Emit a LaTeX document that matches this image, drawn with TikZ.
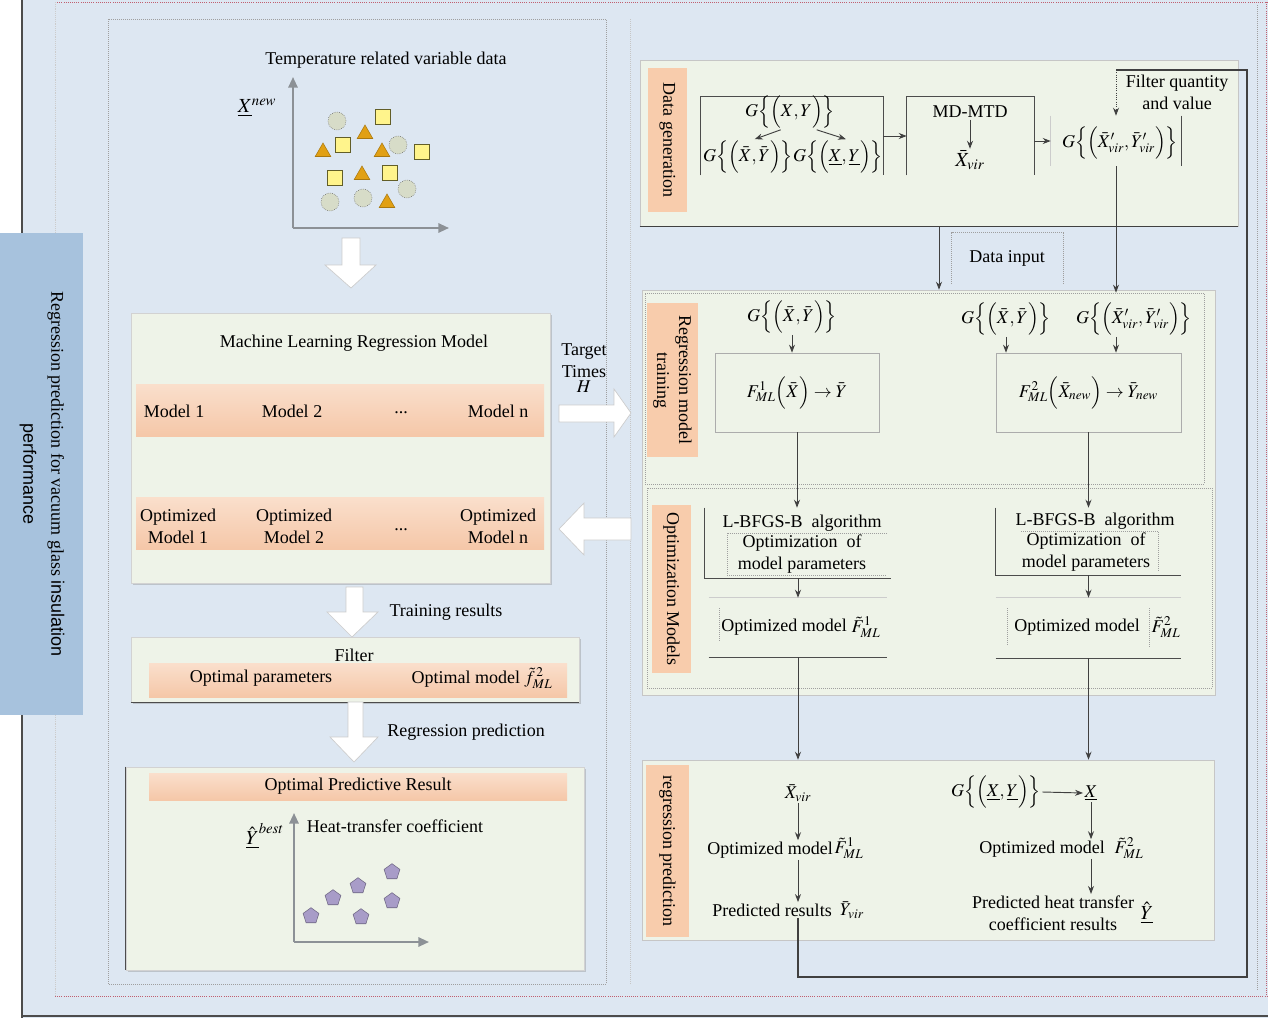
\documentclass[tikz,border=0pt]{standalone}
\usepackage{mathptmx}
\usepackage[no-math]{fontspec}
\setmainfont{Liberation Serif}
\setsansfont{Liberation Sans}
\usetikzlibrary{arrows.meta,shapes.geometric,fit,shadows}
\definecolor{bgblue}{HTML}{DDE7F2}
\definecolor{boxgreen}{HTML}{EEF3E8}
\definecolor{salmon}{HTML}{F8CCAC}
\definecolor{bandtop}{HTML}{FADFCC}
\definecolor{bandbot}{HTML}{F5C7A8}
\definecolor{steel}{HTML}{A7C2DD}
\definecolor{lineg}{HTML}{404040}
\definecolor{reddot}{HTML}{C06070}
\definecolor{axisgray}{HTML}{8C9196}
\definecolor{circfill}{HTML}{D7DCC8}
\definecolor{sqfill}{HTML}{FFF48C}
\definecolor{trifill}{HTML}{E1A014}
\definecolor{pentfill}{HTML}{A89CC8}
\newcommand\mysize{\fontsize{13.5}{16.5}\selectfont}
\newcommand\GG[2]{G\Big\{\Big(#1,#2\Big)\Big\}}
\begin{document}
\begin{tikzpicture}[x=0.75pt,y=-0.75pt,
  every node/.style={font=\mysize, inner sep=1pt},
  conn/.style={draw=lineg, line width=0.7pt},
  arr/.style={draw=lineg, line width=0.7pt, -{Stealth[length=6pt,width=4.5pt]}},
  dotline/.style={draw=gray!75, densely dotted, line width=0.5pt},
  thinline/.style={draw=gray!60!black, line width=0.5pt},
  lightline/.style={draw=gray!40, line width=0.5pt},
  area/.style={fill=boxgreen, draw=gray!45, line width=0.4pt, inner sep=0},
  leftbox/.style={fill=boxgreen, draw=gray!35, line width=0.4pt, inner sep=0,
     drop shadow={shadow xshift=1.2pt, shadow yshift=-1.2pt, opacity=0.35, fill=gray}},
  lblbox/.style={fill=salmon, inner sep=0},
  band/.style={top color=bandtop, bottom color=bandbot, inner sep=0, draw=none},
  bigarrow/.style={fill=white, draw=gray!40, line width=0.5pt},
  axisarr/.style={draw=axisgray, line width=1.5pt, -{Triangle[length=8pt,width=7pt]}},
  circ/.style={circle, fill=circfill, draw=gray!70!black, densely dotted, line width=0.4pt, minimum size=13.5pt, inner sep=0},
  sq/.style={rectangle, fill=sqfill, draw=olive!60!black, line width=0.4pt, minimum width=11pt, minimum height=11.5pt, inner sep=0},
  tri/.style={regular polygon, regular polygon sides=3, fill=trifill, draw=trifill!75!black, line width=0.4pt, minimum size=13.5pt, inner sep=0},
  pent/.style={regular polygon, regular polygon sides=5, fill=pentfill, draw=pentfill!65!black, line width=0.4pt, minimum size=12.5pt, inner sep=0},
  vtext/.style={rotate=-90, align=center}
]
\useasboundingbox (0,0) rectangle (1268,1018);
% background
\fill[white] (0,0) rectangle (1268,1018);
\fill[bgblue] (22,0) rectangle (1268,1018);
\draw[gray!60!black, line width=0.8pt] (22,0) -- (22,1018);
\draw[gray!60!black, line width=0.8pt] (22,1016) -- (1268,1016);
\draw[reddot, densely dotted, line width=0.6pt] (55,2) -- (1268,2);
\draw[reddot, densely dotted, line width=0.6pt] (55,996) -- (1268,996);
\draw[reddot, densely dotted, line width=0.6pt] (1266,2) -- (1266,996);
\draw[gray!40, densely dotted] (55,2) -- (55,996);
\draw[dotline] (108,19) rectangle (606,984);
\draw[gray!45, densely dotted, line width=0.5pt] (630,19) -- (630,984);
\draw[dotline] (1257,5) -- (1257,990);

% side label
\node[fit={(0,233) (83,715)}, fill=steel, inner sep=0] (side) {};
\node[rotate=-90] (sideA) at (56,474) {Regression prediction for vacuum glass \textsf{insulation}};
\node[rotate=-90, font=\sffamily\mysize] (sideB) at (28,474) {performance};

% ---------- left panel ----------
\node (tempt) at (386,60) {Temperature related variable data};
\coordinate (o1) at (293,228);
\coordinate (y1) at (293,77);
\coordinate (x1) at (449,228);
\draw[axisarr] (o1) -- (y1);
\draw[axisarr] (o1) -- (x1);
\node[font=\fontsize{15}{17}\selectfont] (xnew) at (257,108) {$\underline{X}^{new}$};
% scatter
\node[circ] (c1) at (337,121) {};
\node[circ] (c2) at (398,145) {};
\node[circ] (c3) at (407,189) {};
\node[circ] (c4) at (330,202) {};
\node[circ] (c5) at (363,198) {};
\node[sq] (q1) at (383,117) {};
\node[sq] (q2) at (343,145) {};
\node[sq] (q3) at (422,152) {};
\node[sq] (q4) at (335,178) {};
\node[sq] (q5) at (390,173) {};
\node[tri] (t1) at (365,134) {};
\node[tri] (t2) at (323,152) {};
\node[tri] (t3) at (382,152) {};
\node[tri] (t4) at (362,175) {};
\node[tri] (t5) at (387,203) {};
% big arrow down 1
\path[bigarrow] (342,238) -- (360,238) -- (360,265) -- (376,265) -- (351,288) -- (325,265) -- (342,265) -- cycle;

% ML box
\node[leftbox, fit={(131,313) (550,583)}] (ml) {};
\node (mlt) at (354,343) {Machine Learning Regression Model};
\node[band, fit={(136,384) (544,436)}] (row1) {};
\node (m1) at (174,411) {Model 1};
\node (m2) at (292,411) {Model 2};
\node (m3) at (401,413) {...};
\node (m4) at (498,411) {Model n};
\node[band, fit={(136,497) (544,549)}] (row2) {};
\node[align=center] (om1) at (178,526) {Optimized\\Model 1};
\node[align=center] (om2) at (294,526) {Optimized\\Model 2};
\node (om3x) at (401,530) {...};
\node[align=center] (om4x) at (498,526) {Optimized\\Model n};

% Target times + big horizontal arrows
\node[align=center] (tt) at (584,368) {Target\\Times\\[-5pt]$H$};
\path[bigarrow] (559,405) -- (614,405) -- (614,389) -- (631,413) -- (614,437) -- (614,422) -- (559,422) -- cycle;
\path[bigarrow] (631,518) -- (584,518) -- (584,503) -- (559,529) -- (584,555) -- (584,540) -- (631,540) -- cycle;

% training results arrow
\path[bigarrow] (346,587) -- (363,587) -- (363,612) -- (378,612) -- (352,637) -- (327,612) -- (346,612) -- cycle;
\node (trres) at (446,612) {Training results};

% filter box
\node[leftbox, fit={(131,637) (579,702)}] (filt) {};
\draw[thinline] (filt.south west) -- (filt.south east);
\node (filtt) at (354,655) {Filter};
\node[band, fit={(149,663) (567,697)}] (fband) {};
\node (optpar) at (261,678) {Optimal parameters};
\node (optmod) at (482,678) {Optimal model $\tilde{f}^{\,2}_{ML}$};

% regression prediction arrow
\path[bigarrow] (348,702) -- (363,702) -- (363,737) -- (378,737) -- (354,762) -- (330,737) -- (348,737) -- cycle;
\node (regp) at (466,732) {Regression prediction};

% result box
\node[leftbox, fit={(126,767) (584,970)}] (res) {};
\draw[thinline] (res.north west) -- (res.south west);
\node[band, fit={(149,773) (567,800)}] (rband) {};
\node (rest) at (358,786) {Optimal Predictive Result};
\coordinate (o2) at (294,942);
\coordinate (y2) at (294,813);
\coordinate (x2) at (429,942);
\draw[axisarr] (o2) -- (y2);
\draw[axisarr] (o2) -- (x2);
\node[font=\fontsize{15}{17}\selectfont] (ybest) at (265,836) {$\underline{\hat{Y}}^{best}$};
\node (htc) at (395,826) {Heat-transfer coefficient};
\node[pent] (p1) at (311,916) {};
\node[pent] (p2) at (333,898) {};
\node[pent] (p3) at (358,886) {};
\node[pent] (p4) at (361,917) {};
\node[pent] (p5) at (392,872) {};
\node[pent] (p6) at (392,901) {};

% ---------- right panel ----------
% data generation
\node[area, fit={(640,60) (1238,226)}] (dg) {};
\draw[conn] (dg.south west) -- (dg.south east);
\node[lblbox, fit={(648,68) (687,212)}] (dgl) {};
\node[rotate=-90] (dglt) at (dgl.center) {Data generation};

\node[fit={(701,97) (883,175)}, inner sep=0] (bx1) {};
\draw[thinline] (bx1.south west) -- (bx1.north west) -- (bx1.north east) -- (bx1.south east);
\node (g1) at (790,112) {$\GG{X}{Y}$};
\node (g1a) at (748,157) {$\GG{\bar{X}}{\bar{Y}}$};
\node (g1b) at (838,157) {$\GG{\underline{X}}{\underline{Y}}$};
\draw[arr] ([xshift=-7pt]g1.south) -- ([xshift=5pt]g1a.north);
\draw[arr] ([xshift=20pt]g1.south) -- ([xshift=6pt]g1b.north);

\node[fit={(907,97) (1034,175)}, inner sep=0] (bx2) {};
\draw[thinline] (bx2.south west) -- (bx2.north west) -- (bx2.north east) -- (bx2.south east);
\node (md) at (970,112) {MD-MTD};
\node[font=\fontsize{15}{17}\selectfont] (xv) at (970,160) {$\bar{X}_{vir}$};
\draw[arr] (md.south) -- (xv.north);
\draw[arr] (bx1.east) -- (bx2.west);

\node[fit={(1051,116) (1181,166)}, inner sep=0] (bx3) {};
\draw[lightline] (bx3.north west) -- (bx3.south west);
\draw[thinline] (bx3.north east) -- (bx3.south east);
\draw[arr] (bx2.east |- bx3.west) -- (bx3.west);
\node (gv) at (1120,143) {$\GG{\bar{X}'_{vir}}{\bar{Y}'_{vir}}$};
\node[align=center] (fq) at (1177,92) {Filter quantity\\and value};

% data input
\node[fit={(952,233) (1063,283)}, inner sep=0] (dib) {};
\draw[dotline] (dib.south west) -- (dib.north west) -- (dib.north east) -- (dib.south east);
\node (dit) at (1007,258) {Data input};

% container of training + optimization
\node[area, fit={(642,290) (1215,695)}] (oc) {};
\coordinate (din) at (939,226);
\draw[arr] (din) -- (din |- oc.north);
\node[fit={(645,293) (1204,484)}, inner sep=0, dotline] (tr) {};
\node[lblbox, fit={(647,303) (698,457)}] (trl) {};
\node[vtext] (trlt) at (trl.center) {Regression model\\training};

\node (gt1) at (792,317) {$\GG{\bar{X}}{\bar{Y}}$};
\node[fit={(715,353) (879,432)}, inner sep=0, draw=gray!65, line width=0.5pt] (f1) {};
\node (f1t) at (f1.center) {$F^{1}_{ML}\Big(\bar{X}\Big)\rightarrow\bar{Y}$};
\draw[arr] (gt1.south) -- (gt1.south |- f1.north);

\node (gt2) at (1006,319) {$\GG{\bar{X}}{\bar{Y}}$};
\node (gt3) at (1134,319) {$\GG{\bar{X}'_{vir}}{\bar{Y}'_{vir}}$};
\node[fit={(996,353) (1181,432)}, inner sep=0, draw=gray!65, line width=0.5pt] (f2) {};
\node (f2t) at (f2.center) {$F^{2}_{ML}\Big(\bar{X}_{new}\Big)\rightarrow\bar{Y}_{new}$};
\draw[arr] (gt2.south) -- (gt2.south |- f2.north);
\draw[arr] (bx3.south) -- (bx3.south |- tr.north);
\draw[arr] (bx3.south |- gt3.south) -- (bx3.south |- f2.north);

% optimization
\node[fit={(647,488) (1212,688)}, inner sep=0, dotline] (op) {};
\node[lblbox, fit={(652,505) (691,673)}] (opl) {};
\node[rotate=-90] (oplt) at (opl.center) {Optimization Models};

\node[fit={(705,508) (891,578)}, inner sep=0] (lb1) {};
\draw[thinline] (lb1.north west) -- (lb1.south west) -- (lb1.south east);
\node (lb1t) at (802,523) {L-BFGS-B\ \ algorithm};
\node[align=center] (lb1o) at (802,554) {Optimization\ \ of\\model parameters};
\draw[dotline] (887,533) -- (727,533) -- (727,575) -- (887,575);
\draw[arr] (f1.south) -- (f1.south |- lb1.north);
\node[fit={(709,598) (887,657)}, inner sep=0] (ob1) {};
\draw[lightline] (ob1.north west) -- (ob1.north east);
\draw[thinline] (ob1.south west) -- (ob1.south east);
\draw[dotline] (719,608) -- (719,642);
\node (ob1t) at (784,627) {Optimized model};
\node (ob1f) at (866,627) {$\tilde{F}^{1}_{ML}$};
\draw[arr] (lb1.south) -- (lb1.south |- ob1.north);

\node[fit={(996,508) (1181,575)}, inner sep=0] (lb2) {};
\draw[thinline] (lb2.north west) -- (lb2.south west) -- (lb2.south east);
\node (lb2t) at (1095,521) {L-BFGS-B\ \ algorithm};
\node[align=center] (lb2o) at (1086,552) {Optimization\ \ of\\model parameters};
\draw[dotline] (1021,531) -- (1158,531) -- (1158,572);
\draw[arr] (f2.south) -- (f2.south |- lb2.north);
\node[fit={(996,598) (1181,658)}, inner sep=0] (ob2) {};
\draw[lightline] (ob2.north west) -- (ob2.north east);
\draw[thinline] (ob2.south west) -- (ob2.south east);
\draw[dotline] (1007,608) -- (1007,645);
\draw[dotline] (1149,608) -- (1149,648);
\node (ob2t) at (1077,627) {Optimized model};
\node (ob2f) at (1166,627) {$\tilde{F}^{2}_{ML}$};
\draw[arr] (lb2.south) -- (lb2.south |- ob2.north);

% regression prediction
\node[area, fit={(642,760) (1214,940)}] (rp) {};
\draw[arr] (ob1.south) -- (ob1.south |- rp.north);
\draw[arr] (ob2.south) -- (ob2.south |- rp.north);
\node[lblbox, fit={(646,765) (689,937)}] (rpl) {};
\node[rotate=-90] (rplt) at (rpl.center) {regression prediction};

\node (xv1) at (798,793) {$\bar{X}_{vir}$};
\node (om3) at (770,850) {Optimized model};
\node (om3f) at (849,848) {$\tilde{F}^{1}_{ML}$};
\node (pr1) at (772,910) {Predicted results};
\node (pr1y) at (852,910) {$\bar{Y}_{vir}$};
\draw[arr] (xv1.south) -- (xv1.south |- om3.north);
\draw[arr] (xv1.south |- om3.south) -- (xv1.south |- pr1.north);

\node (gxy) at (996,792) {$\GG{\underline{X}}{\underline{Y}}$};
\node (xu) at (1091,793) {$\underline{X}$};
\draw[arr] (gxy.east) -- (xu.west);
\node (om4) at (1042,849) {Optimized model};
\node (om4f) at (1129,848) {$\tilde{F}^{2}_{ML}$};
\draw[arr] (xu.south) -- (xu.south |- om4.north);
\node[align=center] (pr2) at (1053,913) {Predicted heat transfer\\coefficient results};
\node[font=\fontsize{15}{17}\selectfont] (yh) at (1147,913) {$\underline{\hat{Y}}$};
\draw[arr] (xu.south |- om4.south) -- (xu.south |- pr2.north);

% feedback loop
\coordinate (fbA) at (1247,977);
\coordinate (fbB) at (1247,70);
\draw[draw=lineg, line width=0.9pt] (xv1.south |- pr1.south) -- (xv1.south |- fbA) -- (fbA) -- (fbB) -- (bx3.north |- fbB);
\draw[arr, densely dotted] (bx3.north |- fbB) -- (bx3.north);
\end{tikzpicture}
\end{document}
